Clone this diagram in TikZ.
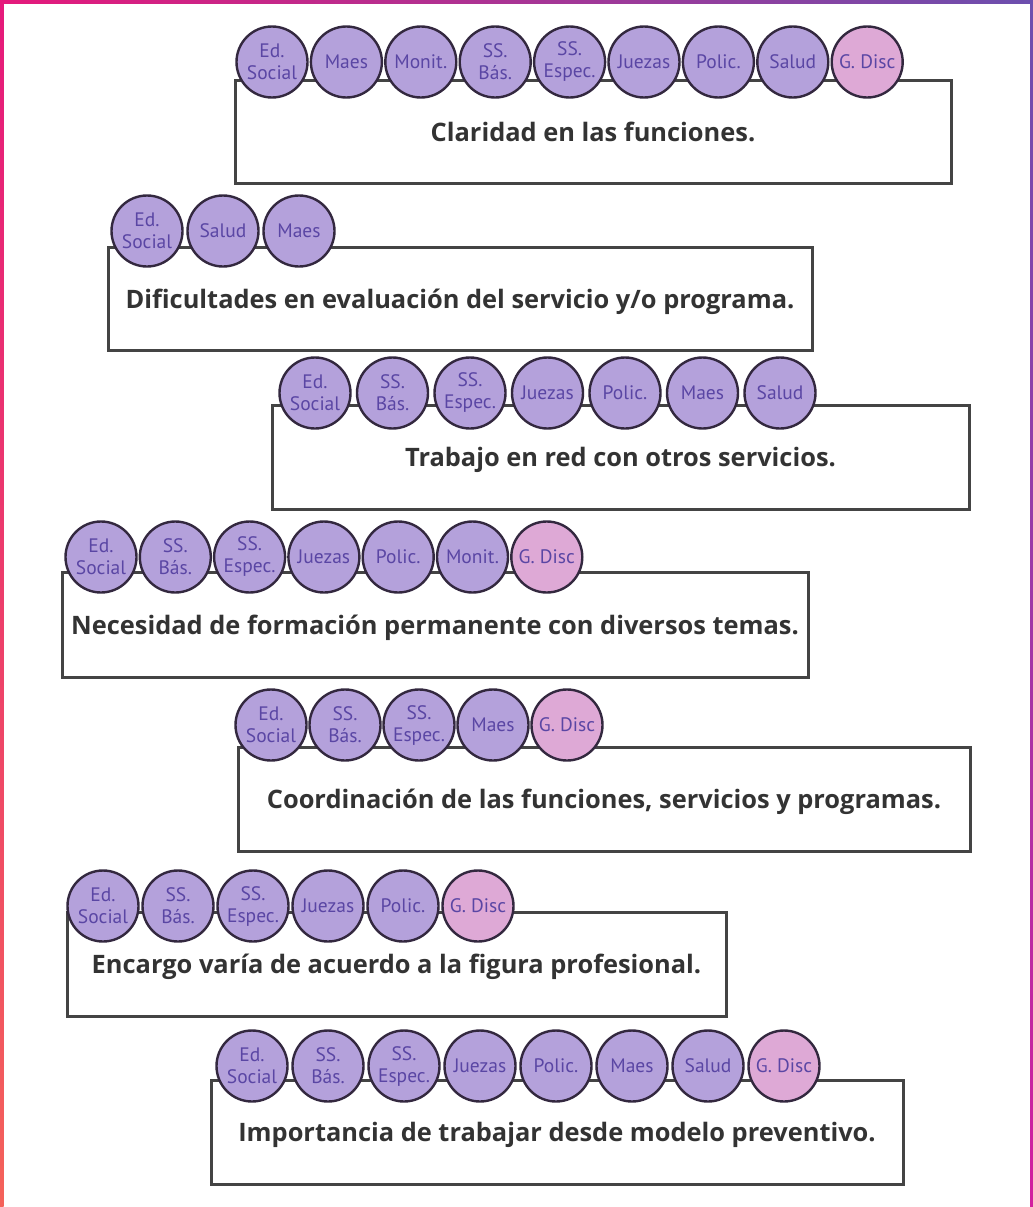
\documentclass[tikz,border=0pt]{standalone}
\usepackage{fontspec}
\setmainfont{Open Sans}
\newfontfamily\lblfont{PT Sans}
\definecolor{lav}{HTML}{B4A1DB}
\definecolor{pinkc}{HTML}{DEA9D6}
\definecolor{circc}{HTML}{33283F}
\definecolor{lblc}{HTML}{5A46A4}
\definecolor{boxc}{HTML}{444444}
\definecolor{txtc}{HTML}{333333}
\definecolor{frpink}{HTML}{E5197B}
\definecolor{frpurp}{HTML}{6C4FAE}
\definecolor{frcoral}{HTML}{F4625A}
\definecolor{frmag}{HTML}{D21F9F}
\tikzset{
  box/.style={draw=boxc, line width=3pt, fill=white, inner sep=0pt, text=txtc,
    text depth=0pt, font=\bfseries\fontsize{25.4}{28}\selectfont},
  ag/.style={circle, draw=circc, line width=2.4pt, fill=lav, minimum size=71pt,
    inner sep=0pt, text=lblc, align=center, font=\lblfont\fontsize{19.5}{22}\selectfont},
  gd/.style={ag, fill=pinkc}
}
\begin{document}
\begin{tikzpicture}[x=1pt,y=-1pt]
\useasboundingbox (0,0) rectangle (1033,1207);
\fill[white] (0,0) rectangle (1033,1207);
% frame
\shade[left color=frpink, right color=frpurp] (0,0) rectangle (1033,3.5);
\shade[top color=frpink, bottom color=frcoral] (0,0) rectangle (3.5,1207);
\shade[top color=frpurp, bottom color=frmag] (1030,0) rectangle (1033,1207);

% row 1
\node[box, minimum width=716pt, minimum height=103pt] (b1) at (593,131.5) {Claridad en las funciones.};
\foreach \lab/\st [count=\i] in {{Ed.\\Social}/ag, Maes/ag, Monit./ag, {SS.\\Bás.}/ag, {SS.\\Espec.}/ag, Juezas/ag, Polic./ag, Salud/ag, G. Disc/gd}
  \node[\st] (r1c\i) at ({272+(\i-1)*74.4},62) {\lab};

% row 2
\node[box, minimum width=704pt, minimum height=103pt] (b2) at (460,298.5) {Dificultades en evaluación del servicio y/o programa.};
\foreach \lab/\st [count=\i] in {{Ed.\\Social}/ag, Salud/ag, Maes/ag}
  \node[\st] (r2c\i) at ({147+(\i-1)*76},231) {\lab};

% row 3
\node[box, minimum width=697pt, minimum height=104pt] (b3) at (620.5,457) {Trabajo en red con otros servicios.};
\foreach \lab/\st [count=\i] in {{Ed.\\Social}/ag, {SS.\\Bás.}/ag, {SS.\\Espec.}/ag, Juezas/ag, Polic./ag, Maes/ag, Salud/ag}
  \node[\st] (r3c\i) at ({315+(\i-1)*77.5},393) {\lab};

% row 4
\node[box, minimum width=746pt, minimum height=105pt] (b4) at (435,624.5) {Necesidad de formación permanente con diversos temas.};
\foreach \lab/\st [count=\i] in {{Ed.\\Social}/ag, {SS.\\Bás.}/ag, {SS.\\Espec.}/ag, Juezas/ag, Polic./ag, Monit./ag, G. Disc/gd}
  \node[\st] (r4c\i) at ({101+(\i-1)*74.3},557) {\lab};

% row 5
\node[box, minimum width=732pt, minimum height=104pt] (b5) at (604,799) {Coordinación de las funciones, servicios y programas.};
\foreach \lab/\st [count=\i] in {{Ed.\\Social}/ag, {SS.\\Bás.}/ag, {SS.\\Espec.}/ag, Maes/ag, G. Disc/gd}
  \node[\st] (r5c\i) at ({271+(\i-1)*74},725) {\lab};

% row 6
\node[box, minimum width=659pt, minimum height=104pt] (b6) at (396.5,964) {Encargo varía de acuerdo a la figura profesional.};
\foreach \lab/\st [count=\i] in {{Ed.\\Social}/ag, {SS.\\Bás.}/ag, {SS.\\Espec.}/ag, Juezas/ag, Polic./ag, G. Disc/gd}
  \node[\st] (r6c\i) at ({103+(\i-1)*75},906) {\lab};

% row 7
\node[box, minimum width=692pt, minimum height=104pt] (b7) at (557,1132) {Importancia de trabajar desde modelo preventivo.};
\foreach \lab/\st [count=\i] in {{Ed.\\Social}/ag, {SS.\\Bás.}/ag, {SS.\\Espec.}/ag, Juezas/ag, Polic./ag, Maes/ag, Salud/ag, G. Disc/gd}
  \node[\st] (r7c\i) at ({252+(\i-1)*76},1066) {\lab};
\end{tikzpicture}
\end{document}
